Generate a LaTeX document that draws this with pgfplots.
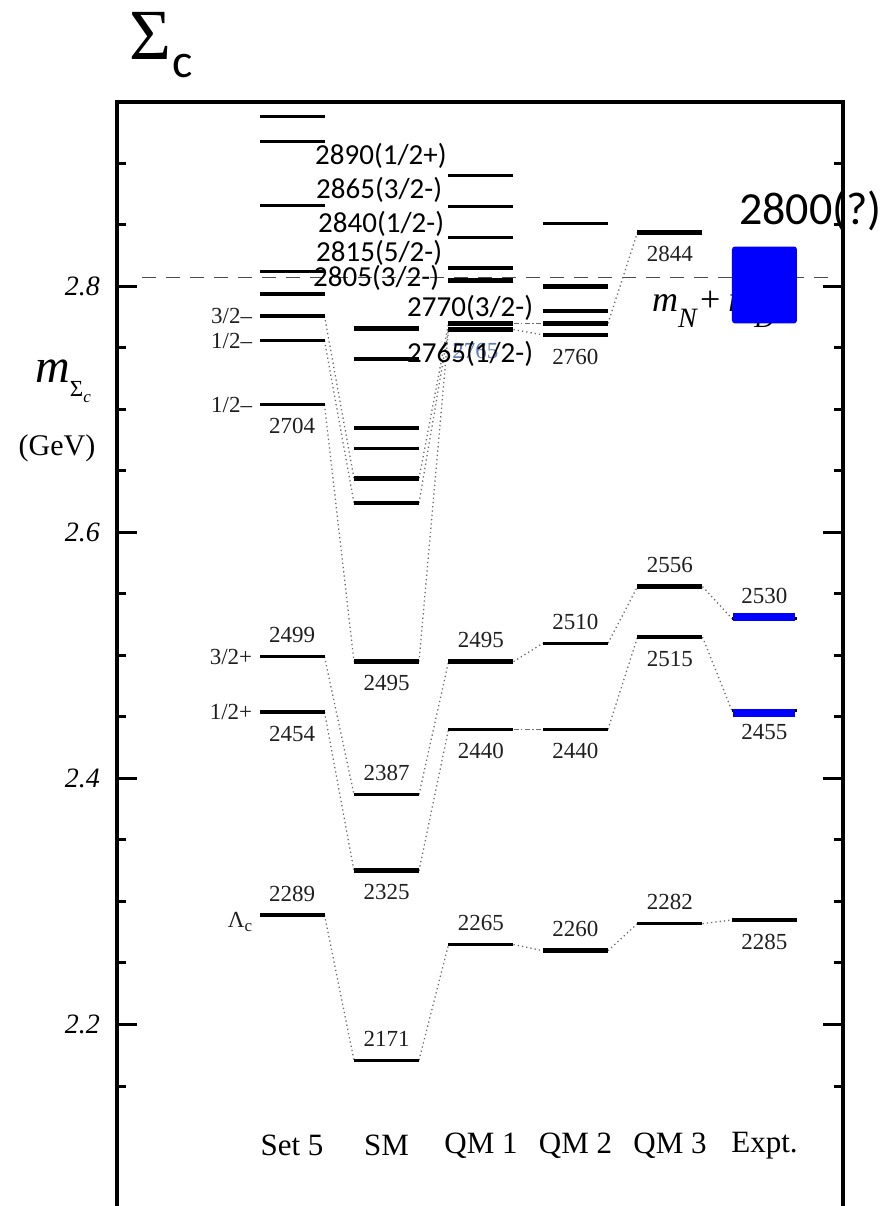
\documentclass[border=0pt]{standalone}
\usepackage{fontspec}
\setmainfont{Liberation Serif}
\newfontfamily\calfont{Carlito}
\usepackage{pgfplots}
\usetikzlibrary{plotmarks}
\pgfplotsset{compat=1.18}
\definecolor{conncol}{RGB}{110,110,110}
\definecolor{ghost}{RGB}{95,125,185}
\tikzset{
  lev/.style={only marks, mark=-, mark size=32.5pt, mark options={solid, line width=3.2pt, black}},
  levt/.style={only marks, mark=-, mark size=32.5pt, mark options={solid, line width=4.6pt, black}},
  conn/.style={conncol, line width=1.3pt, dash pattern=on 1.3pt off 3pt, mark=none},
  conndd/.style={conncol, line width=1.3pt, dash pattern=on 5pt off 2.5pt on 1.3pt off 2.5pt, mark=none},
  lab/.style={font=\fontsize{23}{23}\selectfont, inner sep=0pt, anchor=center, text=black!88},
  jp/.style={font=\fontsize{23}{23}\selectfont, inner sep=0pt, anchor=east, text=black!88},
  col/.style={font=\fontsize{31}{31}\selectfont, inner sep=0pt, anchor=center},
}
\begin{document}
\begin{tikzpicture}
% m_N + m_D (partly hidden by the blue box drawn later)
\node[anchor=base west, inner sep=0pt, font=\fontsize{36}{36}\selectfont] at (535pt,894pt)
  {\textit{m}\raisebox{-16pt}{\fontsize{28}{28}\selectfont\textit{N}}\hspace{2pt}+\hspace{8pt}\textit{m}\raisebox{-16pt}{\fontsize{28}{28}\selectfont\textit{D}}};
\begin{axis}[
  name=ax, at={(0pt,0pt)}, anchor=south west,
  scale only axis, width=726pt, height=1104pt,
  xmin=-1.852, xmax=5.831, ymin=2.05244, ymax=2.95,
  axis line style={draw=none},
  xtick=\empty,
  ytick={2.2,2.4,2.6,2.8},
  minor ytick={2.15,2.25,2.3,2.35,2.45,2.5,2.55,2.65,2.7,2.75,2.85,2.9},
  major tick length=20pt, minor tick length=9pt,
  tick style={black, line width=3pt},
  tick align=inside,
  /pgf/number format/assume math mode=true,
  yticklabel style={font=\fontsize{28}{28}\selectfont\itshape, inner sep=0pt, xshift=-17pt},
  clip=false,
]
% frame (left, top, right)
\draw[line width=3.3pt, line join=miter] (rel axis cs:0,0) -- (rel axis cs:0,1) -- (rel axis cs:1,1) -- (rel axis cs:1,0);

% threshold line m_N + m_D
\addplot[black!70, line width=1.3pt, dash pattern=on 14pt off 10pt, mark=none] coordinates {(-1.587,2.8075) (5.725,2.8075)};

% connecting lines Set 5 -> SM
\addplot[conn] coordinates {(0.344,2.289) (0.656,2.171)};
\addplot[conn] coordinates {(0.344,2.454) (0.656,2.325)};
\addplot[conn] coordinates {(0.344,2.499) (0.656,2.387)};
\addplot[conn] coordinates {(0.344,2.704) (0.656,2.495)};
\addplot[conn] coordinates {(0.344,2.776) (0.656,2.644)};
\addplot[conn] coordinates {(0.344,2.756) (0.656,2.624)};
% SM -> QM 1
\addplot[conn] coordinates {(1.344,2.171) (1.656,2.265)};
\addplot[conn] coordinates {(1.344,2.325) (1.656,2.440)};
\addplot[conn] coordinates {(1.344,2.387) (1.656,2.495)};
\addplot[conn] coordinates {(1.344,2.495) (1.656,2.765)};
\addplot[conn] coordinates {(1.344,2.644) (1.656,2.770)};
\addplot[conn] coordinates {(1.344,2.624) (1.656,2.765)};
% QM 1 -> QM 2
\addplot[conn] coordinates {(2.344,2.265) (2.656,2.260)};
\addplot[conndd] coordinates {(2.344,2.440) (2.656,2.440)};
\addplot[conn] coordinates {(2.344,2.495) (2.656,2.510)};
\addplot[conndd] coordinates {(2.344,2.770) (2.656,2.770)};
\addplot[conn] coordinates {(2.344,2.765) (2.656,2.7606)};
% QM 2 -> QM 3
\addplot[conn] coordinates {(3.344,2.260) (3.656,2.282)};
\addplot[conn] coordinates {(3.344,2.440) (3.656,2.515)};
\addplot[conn] coordinates {(3.344,2.510) (3.656,2.556)};
\addplot[conn] coordinates {(3.344,2.770) (3.656,2.844)};
% QM 3 -> Expt.
\addplot[conn] coordinates {(4.344,2.282) (4.656,2.285)};
\addplot[conn] coordinates {(4.344,2.515) (4.656,2.455)};
\addplot[conn] coordinates {(4.344,2.556) (4.656,2.530)};

% levels (normal)
\addplot[lev] table {
x y
0 2.938
0 2.918
0 2.866
0 2.812
0 2.776
0 2.756
0 2.704
0 2.499
0 2.454
0 2.289
1 2.685
1 2.668
1 2.624
1 2.387
1 2.171
2 2.890
2 2.865
2 2.840
2 2.440
2 2.265
3 2.851
3 2.510
3 2.440
4 2.515
4 2.282
5 2.530
5 2.455
};
% levels (thick)
\addplot[levt] table {
x y
0 2.794
1 2.766
1 2.741
1 2.644
1 2.495
1 2.325
2 2.815
2 2.805
2 2.770
2 2.765
2 2.495
3 2.800
3 2.780
3 2.770
3 2.7606
3 2.260
4 2.844
4 2.556
5 2.285
};
% experimental blue bars
\addplot[only marks, mark=-, mark size=31pt, mark options={solid, line width=8pt, blue}] table {
x y
5 2.5315
5 2.453
};
% experimental box 2800(?)
\addplot[draw=none, fill=blue, rounded corners=3pt] coordinates {(5,2.770) (5.344,2.770) (5.344,2.8325) (4.656,2.8325) (4.656,2.770) (5,2.770)};

% value labels
\node[lab] at (axis cs:0,2.6865) {2704};
\node[lab] at (axis cs:0,2.5165) {2499};
\node[lab] at (axis cs:0,2.4365) {2454};
\node[lab] at (axis cs:0,2.3065) {2289};
\node[lab] at (axis cs:1,2.4775) {2495};
\node[lab] at (axis cs:1,2.4045) {2387};
\node[lab] at (axis cs:1,2.3075) {2325};
\node[lab] at (axis cs:1,2.1885) {2171};
\node[lab, text=ghost] at (axis cs:1.94,2.7475) {2765};
\node[lab] at (axis cs:2,2.5125) {2495};
\node[lab] at (axis cs:2,2.4225) {2440};
\node[lab] at (axis cs:2,2.2825) {2265};
\node[lab] at (axis cs:3,2.7431) {2760};
\node[lab] at (axis cs:3,2.5275) {2510};
\node[lab] at (axis cs:3,2.4225) {2440};
\node[lab] at (axis cs:3,2.2775) {2260};
\node[lab] at (axis cs:4,2.8265) {2844};
\node[lab] at (axis cs:4,2.5735) {2556};
\node[lab] at (axis cs:4,2.4975) {2515};
\node[lab] at (axis cs:4,2.2995) {2282};
\node[lab] at (axis cs:5,2.5480) {2530};
\node[lab] at (axis cs:5,2.4380) {2455};
\node[lab] at (axis cs:5,2.2675) {2285};
% J^P labels of Set 5
\node[jp] at (axis cs:-0.42,2.776) {3/2–};
\node[jp] at (axis cs:-0.42,2.756) {1/2–};
\node[jp] at (axis cs:-0.42,2.704) {1/2–};
\node[jp] at (axis cs:-0.42,2.499) {3/2+};
\node[jp] at (axis cs:-0.42,2.454) {1/2+};
\node[jp, anchor=base east] at (axis cs:-0.42,2.2785) {Λ\raisebox{-4pt}{\fontsize{17}{17}\selectfont c}};
% column names
\node[col] at (axis cs:0,2.1016) {Set 5};
\node[col] at (axis cs:1,2.1016) {SM};
\node[col] at (axis cs:2,2.1016) {QM 1};
\node[col] at (axis cs:3,2.1016) {QM 2};
\node[col] at (axis cs:4,2.1016) {QM 3};
\node[col] at (axis cs:5,2.1016) {Expt.};
\end{axis}

% y-axis label
\node[anchor=base west, inner sep=0pt, font=\fontsize{48}{48}\selectfont] at (-82pt,823pt)
  {\textit{m}\raisebox{-14pt}{\fontsize{23}{23}\selectfont Σ\raisebox{-6pt}{\fontsize{17}{17}\selectfont\textit{c}}}};
\node[anchor=center, inner sep=0pt, font=\fontsize{30}{30}\selectfont] at (-60pt,758pt) {(GeV)};

% title
\node[anchor=base west, inner sep=0pt, font=\fontsize{72}{72}\selectfont] at (12pt,1146pt) {Σ};
\node[anchor=base west, inner sep=0pt, font=\calfont\fontsize{48}{48}\selectfont] at (55pt,1128pt) {c};

% overlay annotations
\begin{scope}[every node/.style={anchor=base west, inner sep=0pt, font=\calfont\fontsize{29}{29}\selectfont}]
\node at (198pt,1041pt) {2890(1/2+)};
\node at (199pt,1007pt) {2865(3/2-)};
\node at (201pt,973pt) {2840(1/2-)};
\node at (199pt,944pt) {2815(5/2-)};
\node at (196pt,919pt) {2805(3/2-)};
\node at (290pt,889pt) {2770(3/2-)};
\node at (290pt,843pt) {2765(1/2-)};
\end{scope}
\node[anchor=base west, inner sep=0pt, font=\calfont\fontsize{46}{46}\selectfont] at (622pt,981pt) {2800(?)};

\pgfresetboundingbox
\path (-117pt,0pt) rectangle (772pt,1206pt);
\end{tikzpicture}
\end{document}
